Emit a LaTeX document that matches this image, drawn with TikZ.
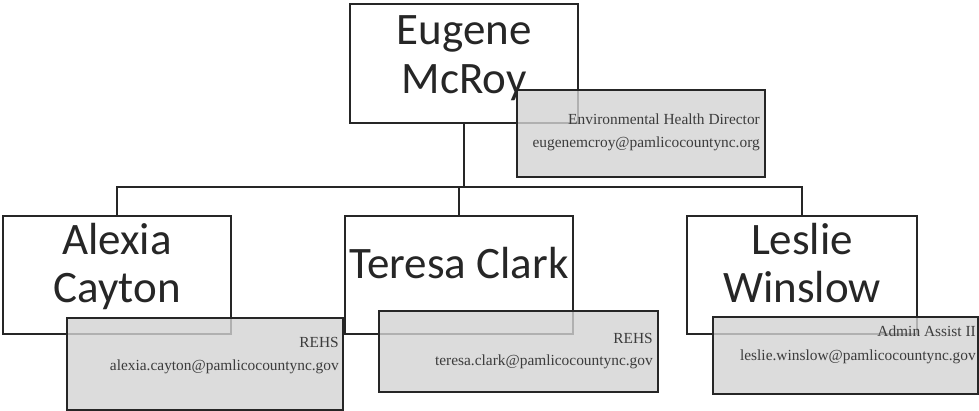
\documentclass[tikz,border=0pt]{standalone}
\usepackage{fontspec}
\setmainfont{Liberation Serif}
\newfontfamily\namefont{Carlito}
\definecolor{ink}{HTML}{262626}
\definecolor{card}{HTML}{D3D3D3}
\tikzset{
  namebox/.style={draw=ink, line width=1.3pt, fill=white, rectangle, inner sep=0pt},
  infobox/.style={draw=ink, line width=1.3pt, fill=card, fill opacity=0.8, rectangle, inner sep=0pt},
  nametext/.style={anchor=base, inner sep=0pt, text=ink, font=\namefont\fontsize{45}{49}\selectfont},
  infotext/.style={anchor=base east, inner sep=0pt, text=ink!90, font=\fontsize{15.4}{18}\selectfont},
  link/.style={draw=ink, line width=1.3pt}
}
\begin{document}
\begin{tikzpicture}[x=1pt,y=-1pt]
\useasboundingbox (0,0) rectangle (979,411);
% white name boxes
\node[namebox, minimum width=228pt, minimum height=119pt] (eug) at (464,63.5) {};
\node[namebox, minimum width=228pt, minimum height=118pt] (ale) at (117,275) {};
\node[namebox, minimum width=228pt, minimum height=118pt] (ter) at (459,275) {};
\node[namebox, minimum width=230pt, minimum height=118pt] (les) at (802,275) {};
% connectors
\coordinate (bus) at (464,187);
\draw[link] (eug.south) -- (bus);
\draw[link] (ale.north) |- (bus -| les.north) -- (les.north);
\draw[link] (ter.north) -- (ter.north |- bus);
% names
\node[nametext] (eug1) at (464,45) {Eugene};
\node[nametext] (eug2) at (464,94) {McRoy};
\node[nametext] (ale1) at (117,255) {Alexia};
\node[nametext] (ale2) at (117,303) {Cayton};
\node[nametext] (ter1) at (459,279) {Teresa Clark};
\node[nametext] (les1) at (802,255) {Leslie};
\node[nametext] (les2) at (802,303) {Winslow};
% info cards
\node[infobox, minimum width=248pt, minimum height=87pt] (eugi) at (641,133.5) {};
\node[infobox, minimum width=276pt, minimum height=92pt] (alei) at (205,364) {};
\node[infobox, minimum width=279pt, minimum height=81pt] (teri) at (518.5,351.5) {};
\node[infobox, minimum width=265pt, minimum height=77pt] (lesi) at (845.5,355.5) {};
% info texts
\node[infotext] (eugt1) at (760,125) {Environmental Health Director};
\node[infotext] (eugt2) at (760,148) {eugenemcroy@pamlicocountync.org};
\node[infotext] (alet1) at (339,347) {REHS};
\node[infotext] (alet2) at (339,370) {alexia.cayton@pamlicocountync.gov};
\node[infotext] (tert1) at (653,343) {REHS};
\node[infotext] (tert2) at (653,365) {teresa.clark@pamlicocountync.gov};
\node[infotext] (lest1) at (976,337) {Admin Assist II};
\node[infotext] (lest2) at (976,360) {leslie.winslow@pamlicocountync.gov};
\end{tikzpicture}
\end{document}
